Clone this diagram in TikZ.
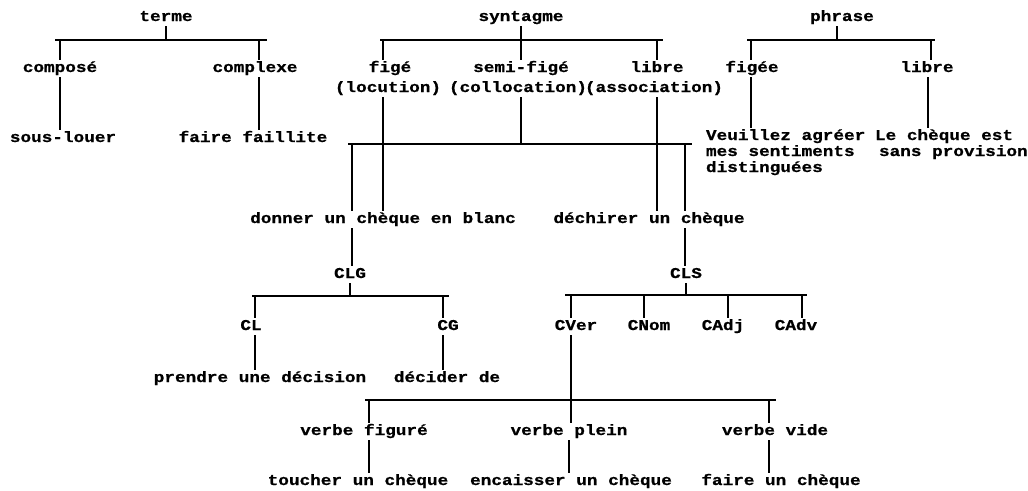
\documentclass[tikz,border=0pt]{standalone}
\usepackage{fontspec}
\newfontfamily\tw[FakeStretch=1.18,BoldFeatures={FakeBold=0.8}]{Liberation Mono}
\begin{document}
\begin{tikzpicture}[x=1pt,y=-1pt,
  t/.style={font=\tw\bfseries\fontsize{15}{15}\selectfont, inner sep=0pt, outer sep=2pt, anchor=base, text height=10pt, text depth=3pt},
  tl/.style={t, anchor=base west},
  ln/.style={line width=1.6pt, black}]
\useasboundingbox[fill=white] (0,0) rectangle (1028,490);
% ---- row 1
\node[t] (terme) at (166,21) {terme};
\node[t] (syntagme) at (521,21) {syntagme};
\node[t] (phrase) at (842,21) {phrase};
% ---- row 2
\node[t] (compose) at (60,72) {composé};
\node[t] (complexe) at (255,72) {complexe};
\node[t] (fige) at (390,72) {figé};
\node[t] (semifige) at (521,72) {semi-figé};
\node[t] (libre) at (657,72) {libre};
\node[t] (figee) at (752,72) {figée};
\node[t] (libreb) at (927,72) {libre};
\node[t] (locution) at (388,92) {(locution)};
\node[t] (collocation) at (518,92) {(collocation)};
\node[t] (association) at (654,92) {(association)};
% ---- row 3
\node[t] (souslouer) at (63,142) {sous-louer};
\node[t] (faillite) at (253,142) {faire faillite};
\node[tl] (veuila) at (704,140) {Veuillez agréer};
\node[tl] (veuilb) at (704,156) {mes sentiments};
\node[tl] (veuilc) at (704,172) {distinguées};
\node[tl] (chequea) at (873,140) {Le chèque est};
\node[tl] (chequeb) at (877,156) {sans provision};
% ---- row 4
\node[t] (donner) at (383,223) {donner un chèque en blanc};
\node[t] (dechirer) at (649,223) {déchirer un chèque};
\node[t] (CLG) at (350,278) {CLG};
\node[t] (CLS) at (686,278) {CLS};
\node[t] (CL) at (251,330) {CL};
\node[t] (CG) at (448,330) {CG};
\node[t] (CVer) at (576,330) {CVer};
\node[t] (CNom) at (649,330) {CNom};
\node[t] (CAdj) at (723,330) {CAdj};
\node[t] (CAdv) at (796,330) {CAdv};
\node[t] (prendre) at (260,382) {prendre une décision};
\node[t] (decider) at (447,382) {décider de};
\node[t] (vfigure) at (364,435) {verbe figuré};
\node[t] (vplein) at (569,435) {verbe plein};
\node[t] (vvide) at (775,435) {verbe vide};
\node[t] (toucher) at (358,485) {toucher un chèque};
\node[t] (encaisser) at (571,485) {encaisser un chèque};
\node[t] (fairech) at (781,485) {faire un chèque};
% ---- bar levels
\coordinate (tb) at (166,40);
\coordinate (sb) at (521,40);
\coordinate (pb) at (837,40);
\coordinate (mb) at (521,144);
\coordinate (gb) at (350,296);
\coordinate (cb) at (686,295);
\coordinate (vb) at (571,400);
% ---- terme
\draw[ln] (terme.south) -- (terme.south |- tb);
\draw[ln] ([xshift=-5pt]compose.north |- tb) -- ([xshift=12pt]complexe.north |- tb);
\draw[ln] (compose.north |- tb) -- (compose.north);
\draw[ln] ([xshift=4pt]complexe.north |- tb) -- ([xshift=4pt]complexe.north);
\draw[ln] (compose.south) -- (compose.south |- souslouer.north);
\draw[ln] ([xshift=4pt]complexe.south) -- ([xshift=4pt]complexe.south |- faillite.north);
% ---- syntagme
\draw[ln] (syntagme.south) -- (semifige.north);
\draw[ln] ([xshift=-10pt]fige.north |- sb) -- ([xshift=6pt]libre.north |- sb);
\draw[ln] ([xshift=-7pt]fige.north |- sb) -- ([xshift=-7pt]fige.north);
\draw[ln] (libre.north |- sb) -- (libre.north);
\draw[ln] ([xshift=-5pt]locution.south) -- ([xshift=-5pt]locution.south |- donner.north);
\draw[ln] ([xshift=3pt]collocation.south) -- ([xshift=3pt]collocation.south |- mb);
\draw[ln] ([xshift=3pt]association.south) -- ([xshift=3pt]association.south |- dechirer.north);
\draw[ln] ([xshift=-2pt]CLG.north |- mb) -- ([xshift=6pt]CLS.north |- mb);
\draw[ln] ([xshift=2pt]CLG.north |- mb) -- ([xshift=2pt]CLG.north |- donner.north);
\draw[ln] ([xshift=-1pt]CLS.north |- mb) -- ([xshift=-1pt]CLS.north |- dechirer.north);
% ---- phrase
\draw[ln] ([xshift=-5pt]phrase.south) -- ([xshift=-5pt]phrase.south |- pb);
\draw[ln] ([xshift=-5pt]figee.north |- pb) -- ([xshift=8pt]libreb.north |- pb);
\draw[ln] ([xshift=-1pt]figee.north |- pb) -- ([xshift=-1pt]figee.north);
\draw[ln] ([xshift=4pt]libreb.north |- pb) -- ([xshift=4pt]libreb.north);
\draw[ln] ([xshift=-1pt]figee.south) -- ([xshift=-1pt]figee.south |- veuila.north);
\draw[ln] ([xshift=1pt]libreb.south) -- ([xshift=1pt]libreb.south |- chequea.north);
% ---- CLG
\draw[ln] ([xshift=2pt]CLG.north |- donner.south) -- ([xshift=2pt]CLG.north);
\draw[ln] (CLG.south) -- (CLG.south |- gb);
\draw[ln] ([xshift=1pt]CL.north |- gb) -- ([xshift=1pt]CG.north |- gb);
\draw[ln] ([xshift=4pt]CL.north |- gb) -- ([xshift=4pt]CL.north);
\draw[ln] ([xshift=-5pt]CG.north |- gb) -- ([xshift=-5pt]CG.north);
\draw[ln] ([xshift=4pt]CL.south) -- ([xshift=4pt]CL.south |- prendre.north);
\draw[ln] ([xshift=-5pt]CG.south) -- ([xshift=-5pt]CG.south |- decider.north);
% ---- CLS
\draw[ln] ([xshift=-1pt]CLS.north |- dechirer.south) -- ([xshift=-1pt]CLS.north);
\draw[ln] (CLS.south) -- (CLS.south |- cb);
\draw[ln] ([xshift=-11pt]CVer.north |- cb) -- ([xshift=11pt]CAdv.north |- cb);
\draw[ln] ([xshift=-5pt]CVer.north |- cb) -- ([xshift=-5pt]CVer.north);
\draw[ln] ([xshift=-5pt]CNom.north |- cb) -- ([xshift=-5pt]CNom.north);
\draw[ln] ([xshift=5pt]CAdj.north |- cb) -- ([xshift=5pt]CAdj.north);
\draw[ln] ([xshift=6pt]CAdv.north |- cb) -- ([xshift=6pt]CAdv.north);
% ---- verbe
\draw[ln] ([xshift=-5pt]CVer.south) -- ([xshift=-5pt]CVer.south |- vplein.north);
\draw[ln] ([xshift=1pt]vfigure.north |- vb) -- ([xshift=1pt]vvide.north |- vb);
\draw[ln] ([xshift=5pt]vfigure.north |- vb) -- ([xshift=5pt]vfigure.north);
\draw[ln] ([xshift=-6pt]vvide.north |- vb) -- ([xshift=-6pt]vvide.north);
\draw[ln] ([xshift=5pt]vfigure.south) -- ([xshift=5pt]vfigure.south |- toucher.north);
\draw[ln] (vplein.south) -- (vplein.south |- encaisser.north);
\draw[ln] ([xshift=-6pt]vvide.south) -- ([xshift=-6pt]vvide.south |- fairech.north);
\end{tikzpicture}
\end{document}
